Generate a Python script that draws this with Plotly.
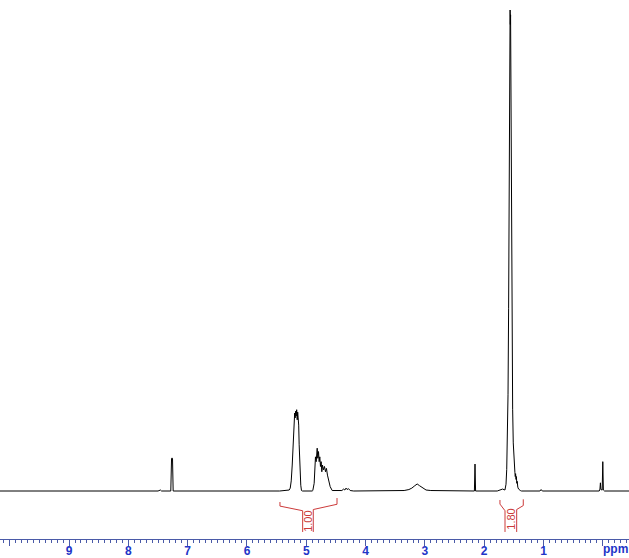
import plotly.graph_objects as go

# ---- spectrum trace (chemical shift in ppm, relative intensity) ----
ppm = [10.165, 7.50, 7.46, 7.44, 7.285, 7.272, 7.256, 7.245,
       5.45, 5.32, 5.288, 5.271, 5.254, 5.237, 5.221, 5.204, 5.196, 5.187, 5.179, 5.170,
       5.162, 5.153, 5.145, 5.137, 5.128, 5.120, 5.108, 5.093, 5.081, 5.064,
       4.90, 4.890, 4.867, 4.857, 4.845, 4.833, 4.816, 4.806, 4.794, 4.783, 4.772,
       4.761, 4.749, 4.738, 4.727, 4.710, 4.693, 4.676, 4.660, 4.643, 4.621, 4.597, 4.563,
       4.40, 4.37, 4.35, 4.33, 4.31, 4.29, 4.26, 4.20,
       3.35, 3.27, 3.22, 3.17, 3.13, 3.09, 3.04, 2.98, 2.90, 2.60,
       2.165, 2.155, 2.145,
       1.78, 1.73, 1.69, 1.65, 1.632, 1.620, 1.608, 1.598, 1.588, 1.580, 1.573, 1.567,
       1.563, 1.559, 1.555, 1.548, 1.540, 1.530, 1.520, 1.510, 1.500, 1.490, 1.482,
       1.476, 1.470, 1.463, 1.457, 1.450, 1.443, 1.433, 1.42, 1.39, 1.37,
       1.06, 1.04, 1.02,
       0.06, 0.048, 0.040, 0.032, 0.010, 0.0, -0.010, -0.03, -0.442]
intensity = [0, 0, 0.002, 0, 0, 0.068, 0.068, 0,
             0, 0.001, 0.002, 0.006, 0.021, 0.054, 0.106, 0.143, 0.162, 0.152, 0.166, 0.156,
             0.169, 0.148, 0.164, 0.152, 0.137, 0.096, 0.044, 0.012, 0.001, 0,
             0, 0.001, 0.016, 0.051, 0.071, 0.061, 0.089, 0.068, 0.082, 0.061, 0.071,
             0.051, 0.061, 0.040, 0.054, 0.044, 0.051, 0.040, 0.047, 0.033, 0.023, 0.009, 0.001,
             0.001, 0.004, 0.002, 0.006, 0.003, 0.005, 0.001, 0,
             0.001, 0.003, 0.006, 0.011, 0.0146, 0.011, 0.006, 0.002, 0.001, 0,
             0, 0.056, 0,
             0, 0.003, 0.004, 0.002, 0.014, 0.045, 0.10, 0.20, 0.38, 0.62, 0.86, 0.98,
             1.0, 0.97, 0.99, 0.80, 0.55, 0.30, 0.17, 0.10, 0.065, 0.045, 0.038,
             0.030, 0.036, 0.024, 0.030, 0.016, 0.020, 0.008, 0.004, 0.001, 0,
             0, 0.003, 0,
             0, 0.004, 0.017, 0.003, 0.002, 0.061, 0.002, 0, 0]

# ---- integration regions ----
integral_labels = ["1.00", "1.80"]
integral_start = [5.444, 1.734]      # left (high ppm) edge
integral_end = [4.482, 1.341]        # right (low ppm) edge
integral_inner_left = [5.061, 1.649]
integral_inner_right = [4.882, 1.452]

# ---- axis ticks ----
tick_values = [0, 1, 2, 3, 4, 5, 6, 7, 8, 9, 10]
tick_labels = ["", "1", "2", "3", "4", "5", "6", "7", "8", "9", ""]

RED = "#cc3a3a"
BLUE = "#2235c8"
AXIS = "#4a5aa8"

fig = go.Figure()
fig.add_trace(go.Scatter(x=ppm, y=intensity, mode="lines",
                         line=dict(color="black", width=1), hoverinfo="skip"))

# integration brackets
bx, by = [], []
left_top = [-0.0229, -0.0187]
right_top = [-0.0146, -0.0173]
for i in range(len(integral_labels)):
    bx += [integral_start[i], integral_start[i], integral_inner_left[i], integral_inner_left[i], None,
           integral_end[i], integral_end[i], integral_inner_right[i], integral_inner_right[i], None]
    by += [left_top[i], left_top[i] - 0.0085, -0.041, -0.0852, None,
           right_top[i], right_top[i] - 0.013, -0.0385, -0.0852, None]
fig.add_trace(go.Scatter(x=bx, y=by, mode="lines", line=dict(color=RED, width=1),
                         hoverinfo="skip"))

label_y = [-0.062, -0.058]
for i, lab in enumerate(integral_labels):
    xc = (integral_inner_left[i] + integral_inner_right[i]) / 2
    fig.add_annotation(x=xc, y=label_y[i], text=lab, showarrow=False, textangle=-90,
                       font=dict(family="Arial, Liberation Sans", size=11, color=RED),
                       xanchor="center", yanchor="middle")

fig.add_annotation(x=1, xref="paper", xanchor="right", y=0, yref="paper",
                   yanchor="top", yshift=-2, borderpad=0,
                   text="<b>ppm</b>", showarrow=False,
                   font=dict(family="Arial, Liberation Sans", size=12, color=BLUE))

fig.update_layout(
    width=629, height=558, template="none",
    margin=dict(l=0, r=0, t=0, b=19),
    paper_bgcolor="white", plot_bgcolor="white",
    showlegend=False,
    xaxis=dict(range=[10.165, -0.442], tickmode="array", tickvals=tick_values,
               ticktext=tick_labels, ticks="outside", ticklen=6, tickwidth=1,
               tickcolor=AXIS, showline=True, linecolor=AXIS, linewidth=1,
               showgrid=False, zeroline=False, automargin=False,
               ticklabelstandoff=-5,
               tickfont=dict(family="Arial, Liberation Sans", size=12, color=BLUE,
                             weight="bold"),
               minor=dict(tickmode="linear", tick0=0, dtick=0.1, ticks="outside",
                          ticklen=3, tickcolor=AXIS, showgrid=False)),
    yaxis=dict(range=[-0.0998, 1.0208], visible=False, showgrid=False,
               zeroline=False, automargin=False),
)

fig.write_html("out.html", config={"displayModeBar": False},
               post_script="document.body.style.margin='0';document.body.style.overflow='hidden';")
